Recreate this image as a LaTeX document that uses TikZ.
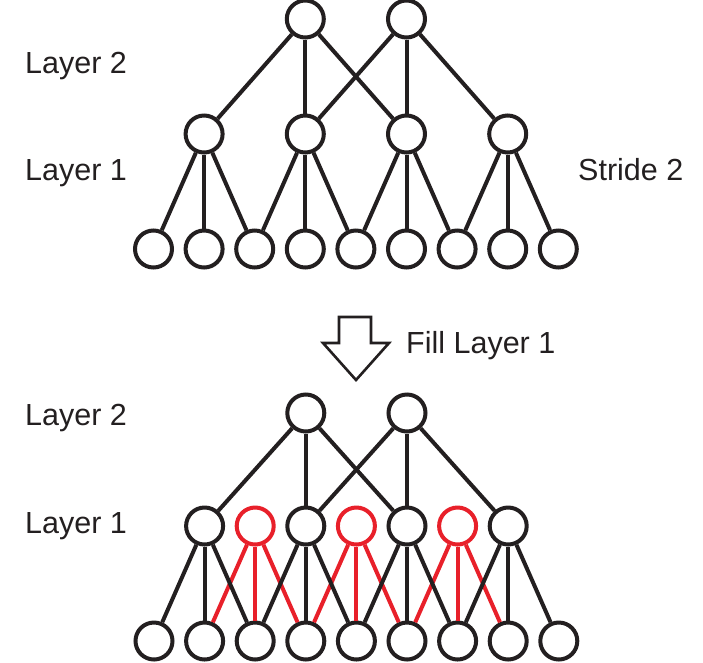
\documentclass[tikz,border=0pt]{standalone}
\usepackage{fontspec}
\setmainfont{Liberation Sans}
\definecolor{ink}{HTML}{231F20}
\definecolor{fillred}{HTML}{E8202A}
\begin{document}
\begin{tikzpicture}[x=1pt,y=-1pt,
  unit/.style={circle,draw=ink,line width=4pt,fill=white,minimum size=37pt,inner sep=0pt},
  newunit/.style={unit,draw=fillred},
  link/.style={draw=ink,line width=4pt},
  newlink/.style={draw=fillred,line width=4pt},
  label/.style={anchor=base west,font=\fontsize{30.5}{33}\selectfont,text=ink,inner sep=0pt}]
\useasboundingbox (0,0) rectangle (703,662);

% ---------- upper network (stride 2) ----------
\foreach \i in {0,...,8}
  \node[unit] (ti\i) at ({153.5+50.6*\i},249) {};
\foreach \k in {1,3,5,7}
  \node[unit] (th\k) at ({153.5+50.6*\k},134) {};
\node[unit] (to3) at ({153.5+50.6*3},19) {};
\node[unit] (to5) at ({153.5+50.6*5},19) {};

\foreach \k in {1,3,5,7}{
  \pgfmathtruncatemacro{\l}{\k-1}
  \pgfmathtruncatemacro{\r}{\k+1}
  \draw[link] (th\k) -- (ti\l);
  \draw[link] (th\k) -- (ti\k);
  \draw[link] (th\k) -- (ti\r);
}
\foreach \a/\b in {3/1,3/3,3/5,5/3,5/5,5/7}
  \draw[link] (to\a) -- (th\b);

\node[label] (u2) at (25,73) {Layer 2};
\node[label] (u1) at (25,180) {Layer 1};
\node[label] (st) at (578,180) {Stride 2};

% ---------- transition arrow ----------
\draw[draw=ink,line width=2.6pt,fill=white,line join=miter]
  (339,317) -- (371,317) -- (371,343) -- (389,343) -- (356,380)
  -- (323,343) -- (339,343) -- cycle;
\node[label] (fl) at (406,353) {Fill Layer 1};

% ---------- lower network (layer 1 filled in) ----------
\foreach \i in {0,...,8}
  \node[unit] (bi\i) at ({154+50.6*\i},641) {};
\foreach \k in {1,3,5,7}
  \node[unit] (bh\k) at ({154+50.6*\k},526) {};
\foreach \k in {2,4,6}
  \node[newunit] (bh\k) at ({154+50.6*\k},526) {};
\node[unit] (bo3) at ({154+50.6*3},413) {};
\node[unit] (bo5) at ({154+50.6*5},413) {};

\foreach \k in {2,4,6}{
  \pgfmathtruncatemacro{\l}{\k-1}
  \pgfmathtruncatemacro{\r}{\k+1}
  \draw[newlink] (bh\k) -- (bi\l);
  \draw[newlink] (bh\k) -- (bi\k);
  \draw[newlink] (bh\k) -- (bi\r);
}
\foreach \k in {1,3,5,7}{
  \pgfmathtruncatemacro{\l}{\k-1}
  \pgfmathtruncatemacro{\r}{\k+1}
  \draw[link] (bh\k) -- (bi\l);
  \draw[link] (bh\k) -- (bi\k);
  \draw[link] (bh\k) -- (bi\r);
}
\foreach \a/\b in {3/1,3/3,3/5,5/3,5/5,5/7}
  \draw[link] (bo\a) -- (bh\b);

\node[label] (l2) at (25,425) {Layer 2};
\node[label] (l1) at (25,533) {Layer 1};
\end{tikzpicture}
\end{document}
